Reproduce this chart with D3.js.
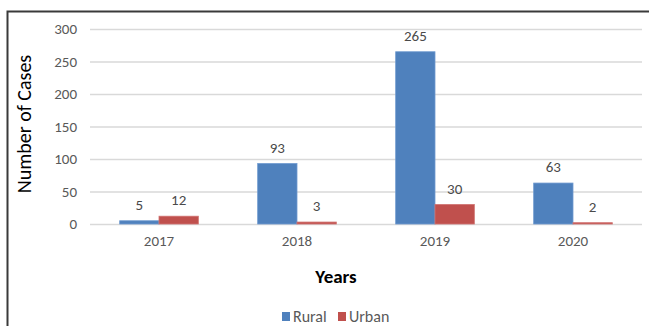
<!DOCTYPE html>
<html>
<head>
<meta charset="utf-8">
<script src="https://cdn.jsdelivr.net/npm/d3@7"></script>
<style>
  html, body { margin: 0; padding: 0; background: #fff; }
  svg { display: block; font-family: Carlito, Lato, "Open Sans", sans-serif; }
</style>
</head>
<body>
<svg id="chart" width="649" height="326"></svg>
<script>
// Cases per year, split by area
const years = ["2017", "2018", "2019", "2020"];
const seriesNames = ["Rural", "Urban"];
const rural = [5, 93, 265, 63];
const urban = [12, 3, 30, 2];
const yTicks = [0, 50, 100, 150, 200, 250, 300];
const colors = ["#4f81bd", "#c0504d"];

const svg = d3.select("#chart");
const plot = { left: 90, right: 642, top: 29, bottom: 224 };
const fontStack = "Carlito, Lato, 'Open Sans', sans-serif";

// Outer frame (right and bottom edges run past the view)
svg.append("path")
  .attr("d", `M7.5,${330} V11.5 H${660}`)
  .attr("fill", "none")
  .attr("stroke", "#3a3a3a")
  .attr("stroke-width", 2);

const x = d3.scaleBand()
  .domain(years)
  .range([plot.left, plot.right])
  .paddingInner(0.43)
  .paddingOuter(0.215);

const xs = d3.scaleBand()
  .domain(seriesNames)
  .range([0, x.bandwidth()]);

const y = d3.scaleLinear()
  .domain([0, 300])
  .range([plot.bottom, plot.top]);

// Gridlines and value axis labels
const yAxis = d3.axisLeft(y)
  .tickValues(yTicks)
  .tickSize(-(plot.right - plot.left))
  .tickPadding(13);

svg.append("g")
  .attr("transform", `translate(${plot.left},0)`)
  .call(yAxis)
  .call(g => g.select(".domain").remove())
  .call(g => g.selectAll(".tick line").attr("stroke", "#d9d9d9").attr("stroke-width", 1.5))
  .call(g => g.selectAll(".tick text")
    .attr("fill", "#595959")
    .attr("font-size", 15)
    .attr("font-family", fontStack));

// Category axis
svg.append("g")
  .attr("transform", `translate(0,${plot.bottom})`)
  .call(d3.axisBottom(x).tickSize(0).tickPadding(11))
  .call(g => g.select(".domain").remove())
  .call(g => g.selectAll(".tick text")
    .attr("fill", "#595959")
    .attr("font-size", 15)
    .attr("font-family", fontStack));

const data = years.map((yr, i) => ({
  year: yr,
  values: [
    { name: "Rural", value: rural[i] },
    { name: "Urban", value: urban[i] }
  ]
}));

const groups = svg.append("g").selectAll("g")
  .data(data)
  .join("g")
  .attr("transform", d => `translate(${x(d.year)},0)`);

groups.selectAll("rect")
  .data(d => d.values)
  .join("rect")
  .attr("x", d => xs(d.name))
  .attr("y", d => y(d.value))
  .attr("width", xs.bandwidth())
  .attr("height", d => y(0) - y(d.value))
  .attr("fill", (d, i) => colors[i])
  .attr("stroke", (d, i) => i === 0 ? "#6f9ad0" : "#d07270")
  .attr("stroke-width", 0.8);

groups.selectAll("text")
  .data(d => d.values)
  .join("text")
  .attr("x", d => xs(d.name) + xs.bandwidth() / 2)
  .attr("y", d => y(d.value) - 11)
  .attr("text-anchor", "middle")
  .attr("fill", "#4a4a4a")
  .attr("font-size", 15)
  .text(d => d.value);

// Axis titles
svg.append("text")
  .attr("transform", `translate(31,124) rotate(-90)`)
  .attr("text-anchor", "middle")
  .attr("fill", "#000")
  .attr("font-size", 20)
  .text("Number of Cases");

svg.append("text")
  .attr("x", 336)
  .attr("y", 283)
  .attr("text-anchor", "middle")
  .attr("fill", "#000")
  .attr("font-size", 19)
  .attr("font-weight", 600)
  .text("Years");

// Legend
const legend = svg.append("g").attr("transform", "translate(282,312)");
const items = legend.selectAll("g")
  .data(seriesNames)
  .join("g")
  .attr("transform", (d, i) => `translate(${i * 56},0)`);
items.append("rect")
  .attr("width", 8)
  .attr("height", 9)
  .attr("fill", (d, i) => colors[i]);
items.append("text")
  .attr("x", 11)
  .attr("y", 10)
  .attr("fill", "#595959")
  .attr("font-size", 16)
  .text(d => d);
</script>
</body>
</html>
